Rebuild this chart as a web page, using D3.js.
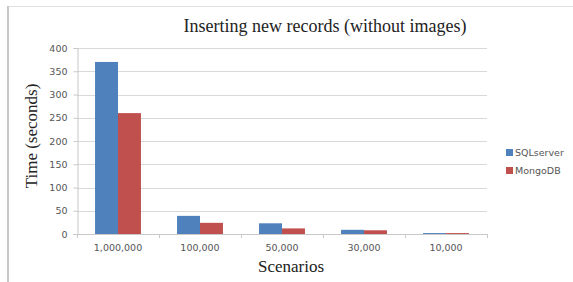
<!DOCTYPE html>
<html><head><meta charset="utf-8">
<script src="https://cdn.jsdelivr.net/npm/d3@7/dist/d3.min.js"></script>
<style>body{margin:0;background:#fff}svg{display:block}</style>
</head><body>
<script>
const categories = ["1,000,000","100,000","50,000","30,000","10,000"];
const seriesNames = ["SQLserver","MongoDB"];
const sqlserver = [370, 39, 23, 9, 2];
const mongodb = [260, 24, 12, 8, 2];
const yTicks = [0,50,100,150,200,250,300,350,400];
const colors = ["#4f81bd","#c0504d"];

const W=573,H=282;
const svg=d3.select("body").append("svg").attr("width",W).attr("height",H);
svg.append("rect").attr("width",W).attr("height",H).attr("fill","#fff");
// frame
svg.append("line").attr("x1",8).attr("x2",W).attr("y1",6.5).attr("y2",6.5).attr("stroke","#e0e0e0");
svg.append("line").attr("x1",8).attr("x2",8).attr("y1",6).attr("y2",H).attr("stroke","#c8c8c8").attr("stroke-width",2);

const x0=d3.scaleBand().domain(categories).range([77,487]).paddingInner(0.44).paddingOuter(0.22);
const x1=d3.scaleBand().domain(seriesNames).range([0,x0.bandwidth()]);
const y=d3.scaleLinear().domain([0,400]).range([234,48]);
const sans="Verdana, DejaVu Sans, sans-serif";
const serif="Liberation Serif, Times New Roman, serif";

// gridlines
svg.append("g").selectAll("line").data(yTicks.filter(d=>d>0)).join("line")
  .attr("x1",77).attr("x2",487).attr("y1",d=>Math.round(y(d))+0.5).attr("y2",d=>Math.round(y(d))+0.5)
  .attr("stroke","#d9d9d9");

// y axis
const ya=svg.append("g").attr("transform","translate(77.5,0)")
  .call(d3.axisLeft(y).tickValues(yTicks).tickSize(4).tickPadding(6));
ya.select(".domain").attr("stroke","#c8c8c8");
ya.selectAll(".tick line").attr("stroke","#c8c8c8");
ya.selectAll("text").attr("fill","#555").attr("font-family",sans).attr("font-size",9.5);

// bars
const data = categories.map((c,i)=>({c, v:[sqlserver[i],mongodb[i]]}));
svg.append("g").selectAll("g").data(data).join("g")
  .attr("transform",d=>`translate(${x0(d.c)},0)`)
  .selectAll("rect").data(d=>d.v.map((v,j)=>({v,j}))).join("rect")
  .attr("x",d=>x1(seriesNames[d.j])).attr("width",x1.bandwidth())
  .attr("y",d=>y(d.v)).attr("height",d=>234-y(d.v))
  .attr("fill",d=>colors[d.j]);

// x axis
const xa=svg.append("g").attr("transform","translate(0,234.5)")
  .call(d3.axisBottom(x0).tickSize(0).tickPadding(10));
xa.select(".domain").attr("stroke","#c8c8c8").attr("d","M77,0H487");
xa.selectAll("text").attr("fill","#555").attr("font-family",sans).attr("font-size",9.5);
const step=x0.step();
svg.append("g").selectAll("line").data(d3.range(categories.length+1)).join("line")
  .attr("x1",i=>Math.round(77+i*step)+0.5).attr("x2",i=>Math.round(77+i*step)+0.5)
  .attr("y1",234).attr("y2",238).attr("stroke","#c8c8c8");

// titles
svg.append("text").attr("x",325).attr("y",32).attr("text-anchor","middle")
  .attr("font-family",serif).attr("font-size",18).attr("fill","#222")
  .text("Inserting new records (without images)");
svg.append("text").attr("x",291).attr("y",272).attr("text-anchor","middle")
  .attr("font-family",serif).attr("font-size",17).attr("fill","#222")
  .text("Scenarios");
svg.append("text").attr("transform","translate(37,136) rotate(-90)").attr("text-anchor","middle")
  .attr("font-family",serif).attr("font-size",17).attr("fill","#222")
  .text("Time (seconds)");

// legend
const lg=svg.append("g").selectAll("g").data(seriesNames).join("g")
  .attr("transform",(d,i)=>`translate(506,${149+i*18})`);
lg.append("rect").attr("width",7).attr("height",7).attr("fill",(d,i)=>colors[i]);
lg.append("text").attr("x",9).attr("y",7).attr("fill","#555")
  .attr("font-family",sans).attr("font-size",9.5).text(d=>d);
</script>
</body></html>
